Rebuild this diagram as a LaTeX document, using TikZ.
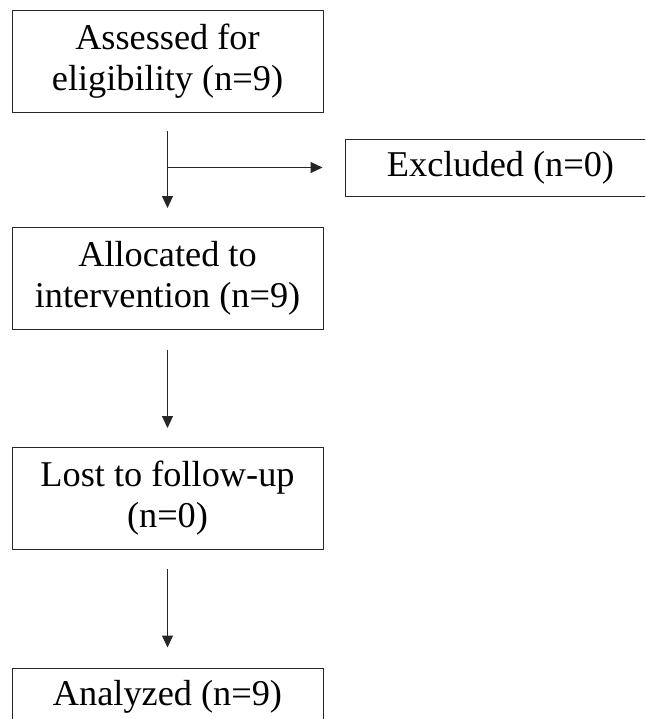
\documentclass[tikz,border=0pt]{standalone}
\usepackage{fontspec}
\setmainfont{Liberation Serif}
\usetikzlibrary{arrows.meta}
\tikzset{
  box/.style={draw=black!85, line width=0.5pt, minimum width=155.5pt,
    minimum height=51pt, inner sep=0pt, align=center,
    font=\fontsize{18.15pt}{20.5pt}\selectfont},
  thinbox/.style={box, minimum height=28.5pt},
  flow/.style={draw=black!85, line width=0.5pt,
    -{Triangle[length=6pt,width=5.5pt]}}
}
\begin{document}
\begin{tikzpicture}[x=0.5pt, y=-0.5pt]
      \clip (0,0) rectangle (645,719);
      \draw
        (167.5,61) node[box] (assess){Assessed for\\eligibility (n=9)}
        (500.5,167.5) node[thinbox] (exclude){Excluded (n=0)}
        (167.5,278.5) node[box] (alloc){Allocated to\\intervention (n=9)}
        (167.5,498.5) node[box] (lost){Lost to follow-up\\(n=0)}
        (167.5,696.5) node[thinbox] (analyzed){Analyzed (n=9)};
      \coordinate (split) at (assess.south |- exclude.west);
      \begin{scope}[flow]
        \draw[shorten <=9pt, shorten >=9.5pt] (assess) to (alloc);
        \draw[shorten >=11pt] (split) to (exclude.west);
        \draw[shorten <=10pt, shorten >=9.5pt] (alloc) to (lost);
        \draw[shorten <=9.5pt, shorten >=10pt] (lost) to (analyzed);
      \end{scope}
    \end{tikzpicture}
\end{document}
